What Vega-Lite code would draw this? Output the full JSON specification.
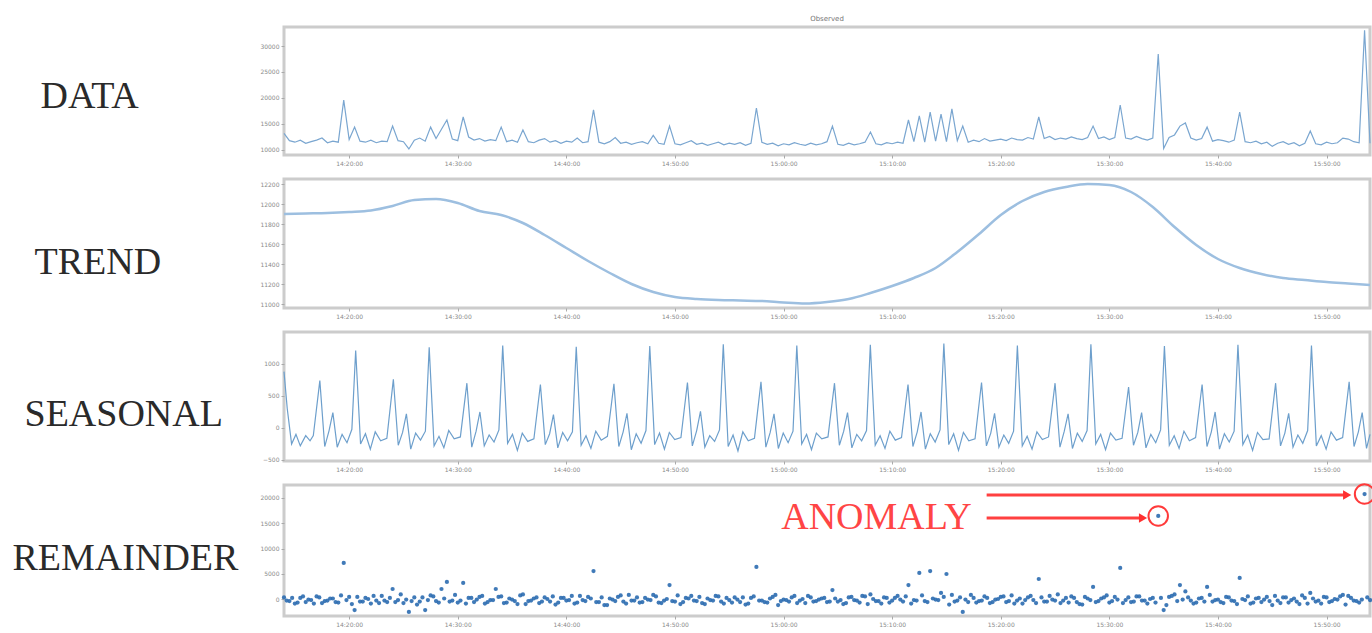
{
"$schema": "https://vega.github.io/schema/vega-lite/v6.json",
"padding": {"left": 10, "top": 13, "right": 0, "bottom": 0},
"background": "white",
"spacing": 24,
"bounds": "flush",
"config": {
"view": {"stroke": "#cccccc", "strokeWidth": 3},
"axis": {"grid": false, "domain": false, "tickColor": "#aaaaaa", "tickSize": 3, "labelFontSize": 6, "labelColor": "#8a8a8a", "labelFont": "DejaVu Sans", "labelPadding": 2, "labelOverlap": false},
"axisY": {"titleAngle": 0, "titleAlign": "left", "titleBaseline": "alphabetic", "titleFont": "Liberation Serif", "titleFontSize": 38, "titleFontWeight": "normal", "titleColor": "#2a2a2a"}
},
"datasets": {
"main": [
{"m":0,"d":13200,"r":300},{"m":0.5,"d":11800,"r":-400},{"m":1,"d":11500,"r":-900},{"m":1.5,"d":11900,"r":200},{"m":2,"d":11300,"r":-600},{"m":2.5,"d":11600,"r":-200},{"m":3,"d":11900,"r":500},{"m":3.5,"d":12300,"r":-800},{"m":4,"d":11400,"r":-300},{"m":4.5,"d":11700,"r":100},
{"m":5,"d":11500,"r":-700},{"m":5.5,"d":19600,"r":7130},{"m":6,"d":12000,"r":400},{"m":6.5,"d":14400,"r":-2180},{"m":7,"d":11700,"r":-500},{"m":7.5,"d":11500,"r":200},{"m":8,"d":11900,"r":-900},{"m":8.5,"d":11400,"r":-300},{"m":9,"d":11700,"r":600},{"m":9.5,"d":11600,"r":-600},
{"m":10,"d":14600,"r":1980},{"m":10.5,"d":11800,"r":-200},{"m":11,"d":11600,"r":-800},{"m":11.5,"d":10200,"r":-2570},{"m":12,"d":11900,"r":300},{"m":12.5,"d":12300,"r":-500},{"m":13,"d":11700,"r":-2180},{"m":13.5,"d":14400,"r":700},{"m":14,"d":12200,"r":-400},{"m":14.5,"d":14000,"r":1980},
{"m":15,"d":15770,"r":3370},{"m":15.5,"d":12100,"r":-300},{"m":16,"d":11800,"r":-700},{"m":16.5,"d":16350,"r":3170},{"m":17,"d":12500,"r":200},{"m":17.5,"d":11900,"r":-600},{"m":18,"d":12200,"r":400},{"m":18.5,"d":11700,"r":-900},{"m":19,"d":12000,"r":-200},{"m":19.5,"d":11800,"r":1980},
{"m":20,"d":14400,"r":500},{"m":20.5,"d":11600,"r":-700},{"m":21,"d":11900,"r":-100},{"m":21.5,"d":11500,"r":-1000},{"m":22,"d":13850,"r":900},{"m":22.5,"d":11600,"r":-400},{"m":23,"d":11400,"r":100},{"m":23.5,"d":11900,"r":-800},{"m":24,"d":12200,"r":300},{"m":24.5,"d":11500,"r":-500},
{"m":25,"d":11800,"r":-1100},{"m":25.5,"d":11300,"r":200},{"m":26,"d":11700,"r":-300},{"m":26.5,"d":11500,"r":600},{"m":27,"d":12300,"r":-700},{"m":27.5,"d":11400,"r":-200},{"m":28,"d":11600,"r":400},{"m":28.5,"d":17700,"r":5540},{"m":29,"d":11500,"r":-600},{"m":29.5,"d":11200,"r":-1200},
{"m":30,"d":11600,"r":100},{"m":30.5,"d":12400,"r":-400},{"m":31,"d":11300,"r":700},{"m":31.5,"d":11500,"r":-900},{"m":32,"d":11100,"r":-300},{"m":32.5,"d":11400,"r":300},{"m":33,"d":11600,"r":-600},{"m":33.5,"d":11200,"r":-100},{"m":34,"d":12800,"r":800},{"m":34.5,"d":11300,"r":-700},
{"m":35,"d":11100,"r":-300},{"m":35.5,"d":14600,"r":2770},{"m":36,"d":11200,"r":-500},{"m":36.5,"d":11000,"r":-1000},{"m":37,"d":11400,"r":200},{"m":37.5,"d":11800,"r":600},{"m":38,"d":11100,"r":-400},{"m":38.5,"d":11300,"r":-800},{"m":39,"d":10900,"r":100},{"m":39.5,"d":11200,"r":-300},
{"m":40,"d":11500,"r":500},{"m":40.5,"d":11000,"r":-900},{"m":41,"d":11300,"r":-200},{"m":41.5,"d":11100,"r":300},{"m":42,"d":11400,"r":-600},{"m":42.5,"d":10900,"r":-1100},{"m":43,"d":11300,"r":200},{"m":43.5,"d":18080,"r":6340},{"m":44,"d":11500,"r":-300},{"m":44.5,"d":11100,"r":-700},
{"m":45,"d":11300,"r":400},{"m":45.5,"d":10800,"r":-1200},{"m":46,"d":11200,"r":-100},{"m":46.5,"d":11000,"r":-500},{"m":47,"d":11400,"r":600},{"m":47.5,"d":11100,"r":-300},{"m":48,"d":10900,"r":-800},{"m":48.5,"d":11300,"r":300},{"m":49,"d":11000,"r":-400},{"m":49.5,"d":11200,"r":100},
{"m":50,"d":11600,"r":-600},{"m":50.5,"d":14600,"r":1780},{"m":51,"d":11100,"r":-500},{"m":51.5,"d":10900,"r":-1000},{"m":52,"d":11300,"r":300},{"m":52.5,"d":11000,"r":-200},{"m":53,"d":11200,"r":-700},{"m":53.5,"d":11500,"r":500},{"m":54,"d":13460,"r":900},{"m":54.5,"d":11200,"r":-400},
{"m":55,"d":11000,"r":-900},{"m":55.5,"d":11400,"r":200},{"m":56,"d":11200,"r":-300},{"m":56.5,"d":11500,"r":600},{"m":57,"d":11300,"r":-500},{"m":57.5,"d":15770,"r":2770},{"m":58,"d":11600,"r":-200},{"m":58.5,"d":16540,"r":5150},{"m":59,"d":11500,"r":-400},{"m":59.5,"d":17300,"r":5540},
{"m":60,"d":11700,"r":-100},{"m":60.5,"d":16900,"r":1200},{"m":61,"d":11600,"r":4950},{"m":61.5,"d":17900,"r":800},{"m":62,"d":11800,"r":-300},{"m":62.5,"d":14600,"r":-2570},{"m":63,"d":11500,"r":-600},{"m":63.5,"d":11900,"r":200},{"m":64,"d":11600,"r":-400},{"m":64.5,"d":12200,"r":500},
{"m":65,"d":11700,"r":-800},{"m":65.5,"d":11900,"r":-100},{"m":66,"d":12100,"r":400},{"m":66.5,"d":11800,"r":-600},{"m":67,"d":12300,"r":700},{"m":67.5,"d":12000,"r":-300},{"m":68,"d":11900,"r":-900},{"m":68.5,"d":12400,"r":300},{"m":69,"d":12100,"r":-200},{"m":69.5,"d":16350,"r":3960},
{"m":70,"d":12200,"r":-500},{"m":70.5,"d":12600,"r":600},{"m":71,"d":12000,"r":-300},{"m":71.5,"d":12300,"r":-800},{"m":72,"d":12100,"r":200},{"m":72.5,"d":12500,"r":500},{"m":73,"d":12200,"r":-600},{"m":73.5,"d":12000,"r":-1100},{"m":74,"d":12400,"r":100},{"m":74.5,"d":14600,"r":2380},
{"m":75,"d":12200,"r":-400},{"m":75.5,"d":12500,"r":300},{"m":76,"d":12000,"r":-700},{"m":76.5,"d":12400,"r":400},{"m":77,"d":18650,"r":6140},{"m":77.5,"d":12300,"r":-200},{"m":78,"d":12100,"r":-600},{"m":78.5,"d":12600,"r":500},{"m":79,"d":12200,"r":-300},{"m":79.5,"d":11900,"r":-900},
{"m":80,"d":12300,"r":200},{"m":80.5,"d":28460,"r":16440},{"m":81,"d":10300,"r":-2180},{"m":81.5,"d":12400,"r":400},{"m":82,"d":12900,"r":900},{"m":82.5,"d":14600,"r":2770},{"m":83,"d":15200,"r":1500},{"m":83.5,"d":12300,"r":-300},{"m":84,"d":11900,"r":-700},{"m":84.5,"d":12200,"r":200},
{"m":85,"d":14400,"r":2380},{"m":85.5,"d":11700,"r":-500},{"m":86,"d":12000,"r":-100},{"m":86.5,"d":11800,"r":-800},{"m":87,"d":11500,"r":300},{"m":87.5,"d":11900,"r":-400},{"m":88,"d":17300,"r":4160},{"m":88.5,"d":11600,"r":-200},{"m":89,"d":11400,"r":-900},{"m":89.5,"d":11700,"r":100},
{"m":90,"d":11200,"r":-600},{"m":90.5,"d":11500,"r":400},{"m":91,"d":10700,"r":-1200},{"m":91.5,"d":11300,"r":-300},{"m":92,"d":11600,"r":300},{"m":92.5,"d":11100,"r":-700},{"m":93,"d":11400,"r":100},{"m":93.5,"d":10800,"r":-1000},{"m":94,"d":11300,"r":200},{"m":94.5,"d":13650,"r":1200},
{"m":95,"d":11200,"r":-500},{"m":95.5,"d":11000,"r":-900},{"m":96,"d":11500,"r":300},{"m":96.5,"d":11200,"r":-400},{"m":97,"d":11400,"r":-100},{"m":97.5,"d":12300,"r":800},{"m":98,"d":12100,"r":600},{"m":98.5,"d":11600,"r":-300},{"m":99,"d":11400,"r":-700},{"m":99.5,"d":33000,"r":20790},
{"m":100,"d":11300,"r":-200}
],
"rem2": [
{"m":0.25,"r":-300},{"m":0.75,"r":200},{"m":1.25,"r":-700},{"m":1.75,"r":500},{"m":2.25,"r":-100},{"m":2.75,"r":-900},{"m":3.25,"r":300},{"m":3.75,"r":-400},{"m":4.25,"r":100},{"m":4.75,"r":-600},
{"m":5.25,"r":700},{"m":5.75,"r":-200},{"m":6.25,"r":-1000},{"m":6.75,"r":400},{"m":7.25,"r":-500},{"m":7.75,"r":0},{"m":8.25,"r":600},{"m":8.75,"r":-800},{"m":9.25,"r":-300},{"m":9.75,"r":200},
{"m":10.25,"r":-600},{"m":10.75,"r":900},{"m":11.25,"r":-100},{"m":11.75,"r":-400},{"m":12.25,"r":-1100},{"m":12.75,"r":300},{"m":13.25,"r":-200},{"m":13.75,"r":500},{"m":14.25,"r":-700},{"m":14.75,"r":100},
{"m":15.25,"r":-500},{"m":15.75,"r":800},{"m":16.25,"r":-300},{"m":16.75,"r":-900},{"m":17.25,"r":200},{"m":17.75,"r":-100},{"m":18.25,"r":600},{"m":18.75,"r":-600},{"m":19.25,"r":-200},{"m":19.75,"r":400},
{"m":20.25,"r":-800},{"m":20.75,"r":100},{"m":21.25,"r":-400},{"m":21.75,"r":700},{"m":22.25,"r":-1000},{"m":22.75,"r":-300},{"m":23.25,"r":300},{"m":23.75,"r":-500},{"m":24.25,"r":0},{"m":24.75,"r":500},
{"m":25.25,"r":-700},{"m":25.75,"r":200},{"m":26.25,"r":-200},{"m":26.75,"r":-900},{"m":27.25,"r":600},{"m":27.75,"r":-400},{"m":28.25,"r":100},{"m":28.75,"r":-600},{"m":29.25,"r":300},{"m":29.75,"r":-1200},
{"m":30.25,"r":-100},{"m":30.75,"r":400},{"m":31.25,"r":-500},{"m":31.75,"r":800},{"m":32.25,"r":-300},{"m":32.75,"r":-700},{"m":33.25,"r":200},{"m":33.75,"r":-200},{"m":34.25,"r":500},{"m":34.75,"r":-800},
{"m":35.25,"r":0},{"m":35.75,"r":-400},{"m":36.25,"r":700},{"m":36.75,"r":-600},{"m":37.25,"r":100},{"m":37.75,"r":-300},{"m":38.25,"r":400},{"m":38.75,"r":-1000},{"m":39.25,"r":-200},{"m":39.75,"r":600},
{"m":40.25,"r":-500},{"m":40.75,"r":200},{"m":41.25,"r":-700},{"m":41.75,"r":-100},{"m":42.25,"r":300},{"m":42.75,"r":-900},{"m":43.25,"r":500},{"m":43.75,"r":-300},{"m":44.25,"r":-600},{"m":44.75,"r":100},
{"m":45.25,"r":800},{"m":45.75,"r":-400},{"m":46.25,"r":-200},{"m":46.75,"r":300},{"m":47.25,"r":-800},{"m":47.75,"r":0},{"m":48.25,"r":600},{"m":48.75,"r":-500},{"m":49.25,"r":-100},{"m":49.75,"r":200},
{"m":50.25,"r":-500},{"m":50.75,"r":100},{"m":51.25,"r":-200},{"m":51.75,"r":-800},{"m":52.25,"r":400},{"m":52.75,"r":-300},{"m":53.25,"r":600},{"m":53.75,"r":-1000},{"m":54.25,"r":0},{"m":54.75,"r":-400},
{"m":55.25,"r":300},{"m":55.75,"r":-700},{"m":56.25,"r":200},{"m":56.75,"r":-100},{"m":57.25,"r":500},{"m":57.75,"r":-900},{"m":58.25,"r":-300},{"m":58.75,"r":700},{"m":59.25,"r":-600},{"m":59.75,"r":100},
{"m":60.25,"r":-200},{"m":60.75,"r":400},{"m":61.25,"r":-1100},{"m":61.75,"r":-500},{"m":62.25,"r":300},{"m":62.75,"r":-100},{"m":63.25,"r":800},{"m":63.75,"r":-700},{"m":64.25,"r":-300},{"m":64.75,"r":200},
{"m":65.25,"r":-600},{"m":65.75,"r":0},{"m":66.25,"r":500},{"m":66.75,"r":-400},{"m":67.25,"r":-900},{"m":67.75,"r":100},{"m":68.25,"r":-200},{"m":68.75,"r":600},{"m":69.25,"r":-800},{"m":69.75,"r":300},
{"m":70.25,"r":-500},{"m":70.75,"r":-100},{"m":71.25,"r":900},{"m":71.75,"r":-300},{"m":72.25,"r":-700},{"m":72.75,"r":200},{"m":73.25,"r":-1000},{"m":73.75,"r":400},{"m":74.25,"r":-200},{"m":74.75,"r":-600},
{"m":75.25,"r":100},{"m":75.75,"r":700},{"m":76.25,"r":-400},{"m":76.75,"r":-100},{"m":77.25,"r":-800},{"m":77.75,"r":300},{"m":78.25,"r":-500},{"m":78.75,"r":500},{"m":79.25,"r":-300},{"m":79.75,"r":0},
{"m":80.25,"r":-700},{"m":80.75,"r":200},{"m":81.25,"r":-1200},{"m":81.75,"r":600},{"m":82.25,"r":-400},{"m":82.75,"r":-100},{"m":83.25,"r":300},{"m":83.75,"r":-900},{"m":84.25,"r":100},{"m":84.75,"r":-500},
{"m":85.25,"r":800},{"m":85.75,"r":-200},{"m":86.25,"r":-600},{"m":86.75,"r":400},{"m":87.25,"r":-300},{"m":87.75,"r":-1000},{"m":88.25,"r":0},{"m":88.75,"r":500},{"m":89.25,"r":-700},{"m":89.75,"r":200},
{"m":90.25,"r":-100},{"m":90.75,"r":-400},{"m":91.25,"r":600},{"m":91.75,"r":-800},{"m":92.25,"r":300},{"m":92.75,"r":-200},{"m":93.25,"r":-500},{"m":93.75,"r":700},{"m":94.25,"r":-900},{"m":94.75,"r":100},
{"m":95.25,"r":-300},{"m":95.75,"r":400},{"m":96.25,"r":-600},{"m":96.75,"r":0},{"m":97.25,"r":500},{"m":97.75,"r":-1100},{"m":98.25,"r":200},{"m":98.75,"r":-400},{"m":99.25,"r":-100},{"m":99.75,"r":300}
],
"trend": [
{"m":0,"t":11900},{"m":2,"t":11905},{"m":4,"t":11910},{"m":6,"t":11920},{"m":8,"t":11935},{"m":10,"t":11980},{"m":12,"t":12040},{"m":14,"t":12050},{"m":16,"t":12010},{"m":18,"t":11930},
{"m":20,"t":11890},{"m":22,"t":11810},{"m":24,"t":11690},{"m":26,"t":11560},{"m":28,"t":11430},{"m":30,"t":11310},{"m":32,"t":11200},{"m":34,"t":11120},{"m":36,"t":11070},{"m":38,"t":11050},
{"m":40,"t":11040},{"m":42,"t":11035},{"m":44,"t":11030},{"m":46,"t":11015},{"m":48,"t":11005},{"m":50,"t":11020},{"m":52,"t":11050},{"m":54,"t":11110},{"m":56,"t":11180},{"m":58,"t":11260},
{"m":60,"t":11360},{"m":62,"t":11520},{"m":64,"t":11700},{"m":66,"t":11890},{"m":68,"t":12030},{"m":70,"t":12120},{"m":72,"t":12170},{"m":74,"t":12200},{"m":76,"t":12190},{"m":78,"t":12120},
{"m":80,"t":11970},{"m":82,"t":11770},{"m":84,"t":11590},{"m":86,"t":11450},{"m":88,"t":11360},{"m":90,"t":11300},{"m":92,"t":11260},{"m":94,"t":11240},{"m":96,"t":11220},{"m":98,"t":11205},{"m":100,"t":11190}
],
"seasonal": [
{"m":0,"s":880},{"m":0.3,"s":300},{"m":0.7,"s":-250},{"m":1.1,"s":-100},{"m":1.5,"s":-280},{"m":2.0,"s":-120},{"m":2.4,"s":-200},
{"m":2.7,"s":-120},{"m":3.3,"s":740},{"m":3.75,"s":-290},{"m":4.15,"s":-40},{"m":4.5,"s":240},{"m":4.9,"s":-300},{"m":5.35,"s":-100},{"m":5.8,"s":-230},{"m":6.25,"s":-20},{"m":6.6,"s":1210},{"m":7.05,"s":-250},{"m":7.5,"s":-90},{"m":7.95,"s":-330},{"m":8.4,"s":-60},{"m":8.9,"s":-200},
{"m":9.47,"s":-160},{"m":10.07,"s":760},{"m":10.52,"s":-270},{"m":10.92,"s":-70},{"m":11.27,"s":220},{"m":11.67,"s":-330},{"m":12.12,"s":-80},{"m":12.57,"s":-190},{"m":13.02,"s":-50},{"m":13.37,"s":1260},{"m":13.82,"s":-280},{"m":14.27,"s":-130},{"m":14.72,"s":-310},{"m":15.17,"s":-40},{"m":15.67,"s":-170},
{"m":16.24,"s":-140},{"m":16.84,"s":700},{"m":17.29,"s":-300},{"m":17.69,"s":-50},{"m":18.04,"s":250},{"m":18.44,"s":-280},{"m":18.89,"s":-110},{"m":19.34,"s":-220},{"m":19.79,"s":-30},{"m":20.14,"s":1290},{"m":20.59,"s":-240},{"m":21.04,"s":-100},{"m":21.49,"s":-350},{"m":21.94,"s":-80},{"m":22.44,"s":-210},
{"m":23.01,"s":-170},{"m":23.61,"s":680},{"m":24.06,"s":-260},{"m":24.46,"s":-90},{"m":24.81,"s":210},{"m":25.21,"s":-310},{"m":25.66,"s":-70},{"m":26.11,"s":-200},{"m":26.56,"s":-60},{"m":26.91,"s":1270},{"m":27.36,"s":-270},{"m":27.81,"s":-120},{"m":28.26,"s":-320},{"m":28.71,"s":-50},{"m":29.21,"s":-190},
{"m":29.78,"s":-130},{"m":30.38,"s":690},{"m":30.83,"s":-290},{"m":31.23,"s":-60},{"m":31.58,"s":230},{"m":31.98,"s":-340},{"m":32.43,"s":-90},{"m":32.88,"s":-240},{"m":33.33,"s":-40},{"m":33.68,"s":1280},{"m":34.13,"s":-260},{"m":34.58,"s":-80},{"m":35.03,"s":-330},{"m":35.48,"s":-70},{"m":35.98,"s":-180},
{"m":36.55,"s":-150},{"m":37.15,"s":710},{"m":37.6,"s":-280},{"m":38.0,"s":-40},{"m":38.35,"s":260},{"m":38.75,"s":-300},{"m":39.2,"s":-120},{"m":39.65,"s":-210},{"m":40.1,"s":-30},{"m":40.45,"s":1310},{"m":40.9,"s":-290},{"m":41.35,"s":-110},{"m":41.8,"s":-360},{"m":42.25,"s":-60},{"m":42.75,"s":-200},
{"m":43.32,"s":-160},{"m":43.92,"s":720},{"m":44.37,"s":-300},{"m":44.77,"s":-70},{"m":45.12,"s":220},{"m":45.52,"s":-320},{"m":45.97,"s":-80},{"m":46.42,"s":-230},{"m":46.87,"s":-50},{"m":47.22,"s":1290},{"m":47.67,"s":-250},{"m":48.12,"s":-100},{"m":48.57,"s":-340},{"m":49.02,"s":-80},{"m":49.52,"s":-170},
{"m":50.09,"s":-140},{"m":50.69,"s":700},{"m":51.14,"s":-270},{"m":51.54,"s":-50},{"m":51.89,"s":240},{"m":52.29,"s":-310},{"m":52.74,"s":-100},{"m":53.19,"s":-200},{"m":53.64,"s":-40},{"m":53.99,"s":1300},{"m":54.44,"s":-270},{"m":54.89,"s":-120},{"m":55.34,"s":-320},{"m":55.79,"s":-50},{"m":56.29,"s":-190},
{"m":56.86,"s":-150},{"m":57.46,"s":680},{"m":57.91,"s":-290},{"m":58.31,"s":-60},{"m":58.66,"s":250},{"m":59.06,"s":-330},{"m":59.51,"s":-90},{"m":59.96,"s":-220},{"m":60.41,"s":-30},{"m":60.76,"s":1320},{"m":61.21,"s":-260},{"m":61.66,"s":-90},{"m":62.11,"s":-350},{"m":62.56,"s":-70},{"m":63.06,"s":-200},
{"m":63.63,"s":-170},{"m":64.23,"s":710},{"m":64.68,"s":-280},{"m":65.08,"s":-80},{"m":65.43,"s":230},{"m":65.83,"s":-300},{"m":66.28,"s":-110},{"m":66.73,"s":-240},{"m":67.18,"s":-50},{"m":67.53,"s":1290},{"m":67.98,"s":-280},{"m":68.43,"s":-130},{"m":68.88,"s":-330},{"m":69.33,"s":-60},{"m":69.83,"s":-180},
{"m":70.4,"s":-140},{"m":71.0,"s":700},{"m":71.45,"s":-300},{"m":71.85,"s":-50},{"m":72.2,"s":220},{"m":72.6,"s":-320},{"m":73.05,"s":-80},{"m":73.5,"s":-210},{"m":73.95,"s":-40},{"m":74.3,"s":1310},{"m":74.75,"s":-250},{"m":75.2,"s":-100},{"m":75.65,"s":-340},{"m":76.1,"s":-80},{"m":76.6,"s":-190},
{"m":77.17,"s":-160},{"m":77.77,"s":640},{"m":78.22,"s":-270},{"m":78.62,"s":-70},{"m":78.97,"s":240},{"m":79.37,"s":-310},{"m":79.82,"s":-100},{"m":80.27,"s":-230},{"m":80.72,"s":-30},{"m":81.07,"s":1280},{"m":81.52,"s":-270},{"m":81.97,"s":-120},{"m":82.42,"s":-320},{"m":82.87,"s":-50},{"m":83.37,"s":-200},
{"m":83.94,"s":-150},{"m":84.54,"s":680},{"m":84.99,"s":-290},{"m":85.39,"s":-60},{"m":85.74,"s":250},{"m":86.14,"s":-330},{"m":86.59,"s":-90},{"m":87.04,"s":-220},{"m":87.49,"s":-50},{"m":87.84,"s":1300},{"m":88.29,"s":-260},{"m":88.74,"s":-110},{"m":89.19,"s":-350},{"m":89.64,"s":-70},{"m":90.14,"s":-180},
{"m":90.71,"s":-170},{"m":91.31,"s":700},{"m":91.76,"s":-280},{"m":92.16,"s":-80},{"m":92.51,"s":230},{"m":92.91,"s":-300},{"m":93.36,"s":-110},{"m":93.81,"s":-240},{"m":94.26,"s":-40},{"m":94.61,"s":1290},{"m":95.06,"s":-280},{"m":95.51,"s":-120},{"m":95.96,"s":-330},{"m":96.41,"s":-60},{"m":96.91,"s":-190},
{"m":97.48,"s":-150},{"m":98.08,"s":720},{"m":98.53,"s":-290},{"m":98.93,"s":-60},{"m":99.28,"s":240},{"m":99.68,"s":-320},{"m":100,"s":-100}
],
"arrows": [{"m":64.7,"m2":79.1,"r":16040},{"m":64.7,"m2":97.9,"r":20590}],
"heads": [{"m":79.1,"r":16040},{"m":97.9,"r":20590}],
"anomalies": [{"m":80.5,"r":16440},{"m":99.5,"r":20790}],
"label": [{"m":54.55,"r":13860,"text":"ANOMALY"}]
},
"vconcat": [
{
"title": {"text": "Observed", "fontSize": 7, "color": "#777777", "font": "DejaVu Sans", "fontWeight": "normal", "offset": 5, "anchor": "middle"},
"width": 1086, "height": 128,
"data": {"name": "main"},
"mark": {"type": "line", "color": "#7aa6d0", "strokeWidth": 1.2},
"encoding": {
"x": {"field": "m", "type": "quantitative", "scale": {"domain": [0, 100], "nice": false, "zero": false}, "axis": {"values": [6,16,26,36,46,56,66,76,86,96], "labelExpr": "timeFormat(datetime(2021,0,1,14,14+datum.value,0),'%H:%M:%S')", "title": null}},
"y": {"field": "d", "type": "quantitative", "scale": {"domain": [9038, 33654], "nice": false, "zero": false}, "axis": {"values": [10000,15000,20000,25000,30000], "format": "d", "title": "DATA", "titleX": -244, "titleY": 80}}
}
},
{
"width": 1086, "height": 129,
"data": {"name": "trend"},
"mark": {"type": "line", "color": "#9dbfe0", "strokeWidth": 2.5, "interpolate": "monotone"},
"encoding": {
"x": {"field": "m", "type": "quantitative", "scale": {"domain": [0, 100], "nice": false, "zero": false}, "axis": {"values": [6,16,26,36,46,56,66,76,86,96], "labelExpr": "timeFormat(datetime(2021,0,1,14,14+datum.value,0),'%H:%M:%S')", "title": null}},
"y": {"field": "t", "type": "quantitative", "scale": {"domain": [10960, 12250], "nice": false, "zero": false}, "axis": {"values": [11000,11200,11400,11600,11800,12000,12200], "format": "d", "title": "TREND", "titleX": -250, "titleY": 94}}
}
},
{
"width": 1086, "height": 129,
"data": {"name": "seasonal"},
"mark": {"type": "line", "color": "#6d9fcc", "strokeWidth": 1.2},
"encoding": {
"x": {"field": "m", "type": "quantitative", "scale": {"domain": [0, 100], "nice": false, "zero": false}, "axis": {"values": [6,16,26,36,46,56,66,76,86,96], "labelExpr": "timeFormat(datetime(2021,0,1,14,14+datum.value,0),'%H:%M:%S')", "title": null}},
"y": {"field": "s", "type": "quantitative", "scale": {"domain": [-516, 1500], "nice": false, "zero": false}, "axis": {"values": [-500,0,500,1000], "format": "d", "title": "SEASONAL", "titleX": -260, "titleY": 93}}
}
},
{
"width": 1086, "height": 131,
"encoding": {
"x": {"field": "m", "type": "quantitative", "scale": {"domain": [0, 100], "nice": false, "zero": false}, "axis": {"values": [6,16,26,36,46,56,66,76,86,96], "labelExpr": "timeFormat(datetime(2021,0,1,14,14+datum.value,0),'%H:%M:%S')", "title": null}},
"y": {"field": "r", "type": "quantitative", "scale": {"domain": [-3366, 22574], "nice": false, "zero": false}, "axis": {"values": [0,5000,10000,15000,20000], "format": "d", "title": "REMAINDER", "titleX": -272, "titleY": 84}}
},
"layer": [
{
"data": {"name": "main"},
"mark": {"type": "point", "filled": true, "size": 18, "color": "#2b6cb0", "opacity": 0.9}
},
{
"data": {"name": "rem2"},
"mark": {"type": "point", "filled": true, "size": 18, "color": "#2b6cb0", "opacity": 0.9}
},
{
"data": {"name": "arrows"},
"mark": {"type": "rule", "color": "#ff4040", "strokeWidth": 3},
"encoding": {"x2": {"field": "m2"}}
},
{
"data": {"name": "heads"},
"mark": {"type": "point", "shape": "triangle-right", "filled": true, "size": 90, "color": "#ff3030", "opacity": 1}
},
{
"data": {"name": "anomalies"},
"mark": {"type": "point", "shape": "circle", "filled": false, "size": 380, "color": "#ff3a3a", "strokeWidth": 2, "opacity": 1}
},
{
"data": {"name": "label"},
"mark": {"type": "text", "font": "Liberation Serif", "fontSize": 38, "color": "#ff4545", "align": "center", "baseline": "alphabetic"},
"encoding": {"text": {"field": "text"}}
}
]
}
]
}
